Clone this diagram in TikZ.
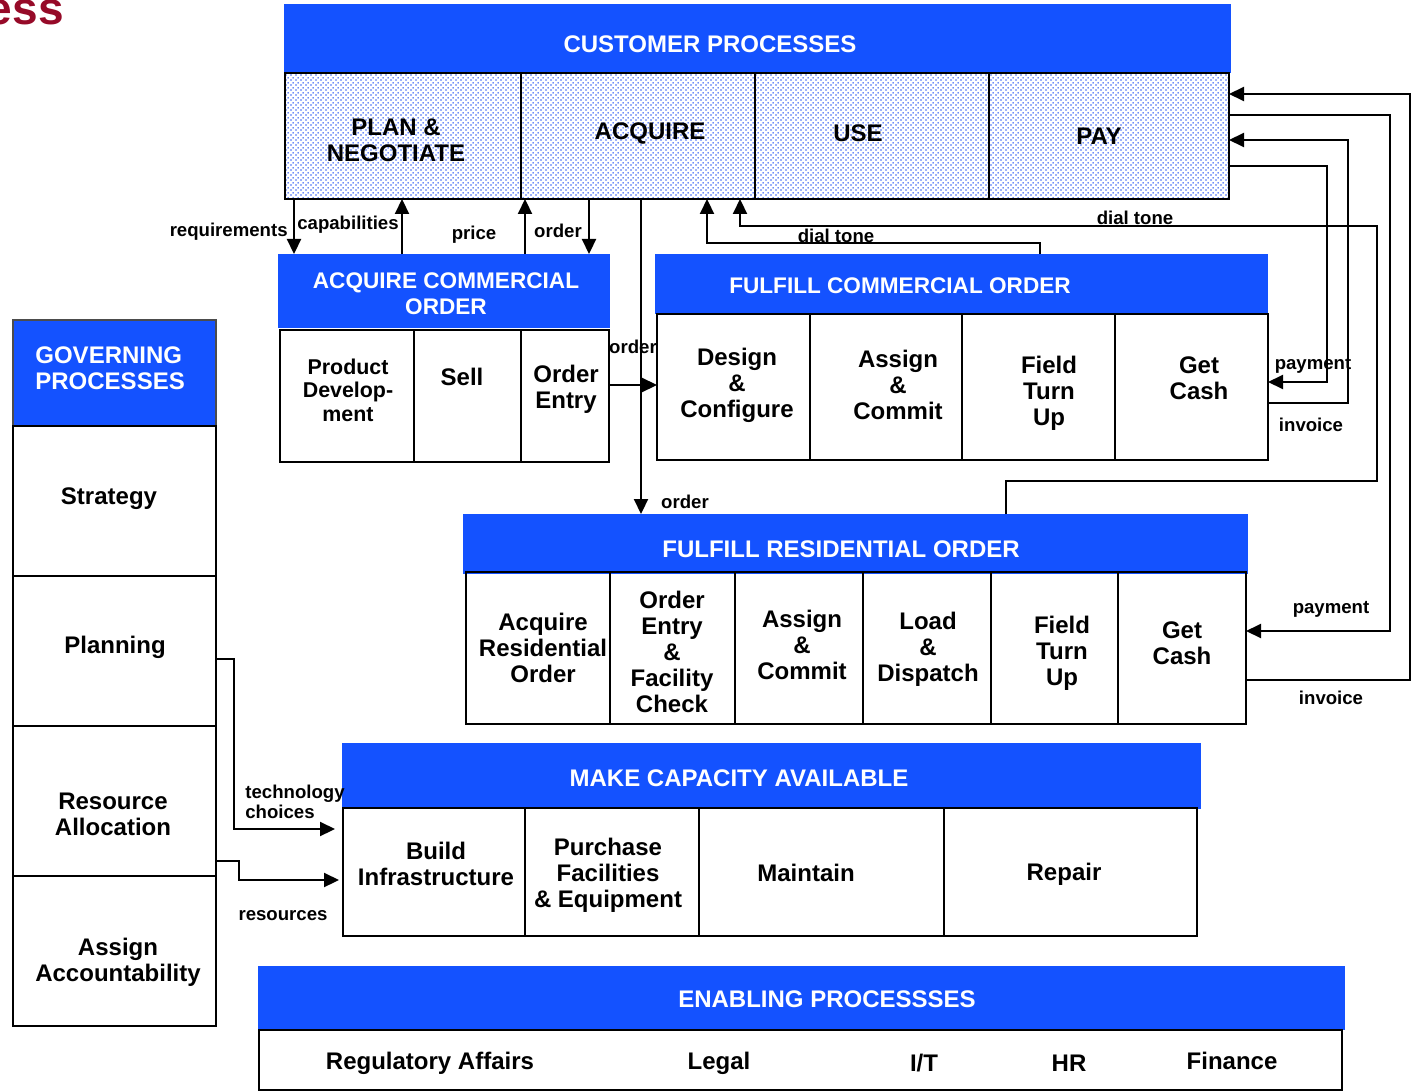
\documentclass[tikz,border=0pt]{standalone}
\usepackage{fontspec}
\setmainfont{Liberation Sans}
\usetikzlibrary{arrows.meta,fit,patterns.meta}

\definecolor{hblue}{RGB}{20,82,255}
\definecolor{dotblue}{RGB}{60,100,245}
\definecolor{essred}{RGB}{150,10,40}

% staggered blue dot screen for the customer process cells
\tikzdeclarepattern{
  name=bluedots,
  type=colored,
  bottom left={(0pt,0pt)},
  top right={(2.5pt,2.5pt)},
  tile size={(2.5pt,2.5pt)},
  code={
    \tikzset{x=1pt,y=1pt}
    \fill[dotblue] (0.6,0.6) circle (0.5);
    \fill[dotblue] (1.85,1.85) circle (0.5);
  }
}

\tikzset{
  hdr/.style={fill=hblue, inner sep=0pt, outer sep=0pt},
  cellbox/.style={draw=black, line width=1.3pt, inner sep=0pt, outer sep=0pt},
  dotbox/.style={cellbox, pattern=bluedots},
  htxt/.style={text=white, font=\bfseries\fontsize{12}{13}\selectfont, align=center, inner sep=0pt},
  hsmall/.style={htxt, font=\bfseries\fontsize{11.3}{13}\selectfont},
  ctxt/.style={font=\bfseries\fontsize{12}{13}\selectfont, align=center, inner sep=0pt},
  csmall/.style={ctxt, font=\bfseries\fontsize{10.7}{11.8}\selectfont},
  lbl/.style={font=\bfseries\fontsize{9.3}{10}\selectfont, inner sep=0pt},
  wire/.style={line width=1.1pt},
  flow/.style={wire, -{Triangle[length=7.5pt,width=7pt]}},
}

\begin{document}
\begin{tikzpicture}[x=0.5pt,y=-0.5pt]
\fill[white] (0,0) rectangle (1412,1091);
\useasboundingbox (0,0) rectangle (1412,1091);

% title fragment
\node[anchor=base east, text=essred, inner sep=0pt,
      font=\bfseries\fontsize{23}{23}\selectfont] (ess) at (64,25) {ess};

% ---------------- customer processes ----------------
\node[hdr, fit={(284,4) (1231,73)}] (cust) {};
\node[htxt] (custT) at (710,44) {CUSTOMER PROCESSES};
\node[dotbox, fit={(285,73) (521,199)}] (plan) {};
\node[dotbox, fit={(521,73) (755,199)}] (acq) {};
\node[dotbox, fit={(755,73) (989,199)}] (use) {};
\node[dotbox, fit={(989,73) (1229,199)}] (pay) {};
\node[ctxt] (planT) at (396,140) {PLAN \&\\NEGOTIATE};
\node[ctxt] (acqT) at (650,133) {ACQUIRE};
\node[ctxt] (useT) at (858,133) {USE};
\node[ctxt] (payT) at (1099,136) {PAY};

% ---------------- acquire commercial order ----------------
\node[hdr, fit={(278,254) (610,328)}] (acoH) {};
\node[hsmall] (acoT) at (446,294) {ACQUIRE COMMERCIAL\\ORDER};
\node[cellbox, fit={(280,330) (414,462)}] (pd) {};
\node[cellbox, fit={(414,330) (521,462)}] (sell) {};
\node[cellbox, fit={(521,330) (609,462)}] (oe) {};
\node[csmall] (pdT) at (348,390) {Product\\Develop-\\ment};
\node[ctxt] (sellT) at (462,377) {Sell};
\node[ctxt] (oeT) at (566,389) {Order\\Entry};

% ---------------- fulfill commercial order ----------------
\node[hdr, fit={(655,254) (1268,314)}] (fcoH) {};
\node[hsmall] (fcoT) at (900,286) {FULFILL COMMERCIAL ORDER};
\node[cellbox, fit={(657,314) (810,460)}] (dc) {};
\node[cellbox, fit={(810,314) (962,460)}] (ac) {};
\node[cellbox, fit={(962,314) (1115,460)}] (ftu) {};
\node[cellbox, fit={(1115,314) (1268,460)}] (gc) {};
\node[ctxt] (dcT) at (737,385) {Design\\\&\\Configure};
\node[ctxt] (acT) at (898,385) {Assign\\\&\\Commit};
\node[ctxt] (ftuT) at (1049,393) {Field\\Turn\\Up};
\node[ctxt] (gcT) at (1199,378) {Get\\Cash};

% ---------------- fulfill residential order ----------------
\node[hdr, fit={(463,514) (1248,574)}] (froH) {};
\node[htxt] (froT) at (841,549) {FULFILL RESIDENTIAL ORDER};
\node[cellbox, fit={(466,572) (610,724)}] (aro) {};
\node[cellbox, fit={(610,572) (735,724)}] (oef) {};
\node[cellbox, fit={(735,572) (863,724)}] (rac) {};
\node[cellbox, fit={(863,572) (991,724)}] (ld) {};
\node[cellbox, fit={(991,572) (1118,724)}] (rftu) {};
\node[cellbox, fit={(1118,572) (1246,724)}] (rgc) {};
\node[ctxt] (aroT) at (543,648) {Acquire\\Residential\\Order};
\node[ctxt] (oefT) at (672,652) {Order\\Entry\\\&\\Facility\\Check};
\node[ctxt] (racT) at (802,645) {Assign\\\&\\Commit};
\node[ctxt] (ldT) at (928,649) {Load\\\&\\Dispatch};
\node[ctxt] (rftuT) at (1062,653) {Field\\Turn\\Up};
\node[ctxt] (rgcT) at (1182,643) {Get\\Cash};

% ---------------- governing processes ----------------
\node[hdr, draw=black!70, line width=0.6pt, fit={(13,320) (216,426)}] (govH) {};
\node[htxt, align=left, anchor=west] (govT) at (35,368) {GOVERNING\\PROCESSES};
\node[cellbox, fit={(13,426) (216,576)}] (strat) {};
\node[cellbox, fit={(13,576) (216,726)}] (plang) {};
\node[cellbox, fit={(13,726) (216,876)}] (ra) {};
\node[cellbox, fit={(13,876) (216,1026)}] (aa) {};
\node[ctxt] (stratT) at (109,499) {Strategy};
\node[ctxt] (plangT) at (115,647) {Planning};
\node[ctxt] (raT) at (113,814) {Resource\\Allocation};
\node[ctxt] (aaT) at (118,962) {Assign\\Accountability};

% ---------------- make capacity available ----------------
\node[hdr, fit={(342,743) (1201,809)}] (mcaH) {};
\node[htxt] (mcaT) at (739,778) {MAKE CAPACITY AVAILABLE};
\node[cellbox, fit={(343,808) (525,936)}] (bi) {};
\node[cellbox, fit={(525,808) (699,936)}] (pfe) {};
\node[cellbox, fit={(699,808) (944,936)}] (mnt) {};
\node[cellbox, fit={(944,808) (1197,936)}] (rep) {};
\node[ctxt] (biT) at (436,864) {Build\\Infrastructure};
\node[ctxt] (pfeT) at (608,875) {Purchase\\Facilities\\\& Equipment};
\node[ctxt] (mntT) at (806,873) {Maintain};
\node[ctxt] (repT) at (1064,874) {Repair};

% ---------------- enabling processes ----------------
\node[hdr, fit={(258,966) (1345,1030)}] (enH) {};
\node[htxt] (enT) at (827,999) {ENABLING PROCESSSES};
\node[cellbox, fit={(259,1030) (1342,1090)}] (enB) {};
\node[ctxt] (regT) at (430,1063) {Regulatory Affairs};
\node[ctxt] (legT) at (719,1063) {Legal};
\node[ctxt] (itT) at (924,1063) {I/T};
\node[ctxt] (hrT) at (1069,1063) {HR};
\node[ctxt] (finT) at (1232,1061) {Finance};

% ---------------- connector columns and rows ----------------
\coordinate (cReq) at (294,0);
\coordinate (cCap) at (402,0);
\coordinate (cPrice) at (525,0);
\coordinate (cOrd) at (589,0);
\coordinate (cRes) at (641,0);
\coordinate (cDt1) at (707,0);
\coordinate (cDt1b) at (1040,0);
\coordinate (cDt2) at (740,0);
\coordinate (cDt2b) at (1006,0);
\coordinate (rOE) at (0,385);
\coordinate (kDt2a) at (1377,481);
\coordinate (kDt2b) at (1377,226);
\coordinate (yCp) at (0,166);
\coordinate (kCp) at (1327,382);
\coordinate (yCi) at (0,403);
\coordinate (kCi) at (1348,140);
\coordinate (yRp) at (0,115);
\coordinate (kRp) at (1390,631);
\coordinate (yRi) at (0,680);
\coordinate (kRi) at (1410,94);
\coordinate (yTc) at (0,659);
\coordinate (kTc) at (234,829);
\coordinate (yRs) at (0,861);
\coordinate (kRs) at (239,880);

% customer <-> acquire commercial order
\draw[flow] (plan.south -| cReq) -- (acoH.north -| cReq);
\draw[flow] (acoH.north -| cCap) -- (plan.south -| cCap);
\draw[flow] (acoH.north -| cPrice) -- (acq.south -| cPrice);
\draw[flow] (acq.south -| cOrd) -- (acoH.north -| cOrd);
% residential order
\draw[flow] (acq.south -| cRes) -- (froH.north -| cRes);
% commercial order hand-off
\draw[flow] (oe.east |- rOE) -- (dc.west |- rOE);
% dial tone returns
\draw[flow] (fcoH.north -| cDt1b) -- ++(0,-11) -| (acq.south -| cDt1);
\draw[flow] (froH.north -| cDt2b) |- (kDt2a) -- (kDt2b) -| (acq.south -| cDt2);
% commercial billing
\draw[flow] (pay.east |- yCp) -| (kCp) -- (gc.east |- kCp);
\draw[flow] (gc.east |- yCi) -| (kCi) -- (pay.east |- kCi);
% residential billing
\draw[flow] (pay.east |- yRp) -| (kRp) -- (rgc.east |- kRp);
\draw[flow] (rgc.east |- yRi) -| (kRi) -- (pay.east |- kRi);
% governing -> capacity
\draw[flow, shorten >=4pt] (plang.east |- yTc) -| (kTc) -- (bi.west |- kTc);
\draw[flow, shorten >=2pt] (ra.east |- yRs) -| (kRs) -- (bi.west |- kRs);

% ---------------- connector labels ----------------
\node[lbl, anchor=east] (lReq) at (288,232) {requirements};
\node[lbl] (lCap) at (348,225) {capabilities};
\node[lbl] (lPrice) at (474,235) {price};
\node[lbl] (lOrd) at (558,231) {order};
\node[lbl] (lOrd2) at (633,347) {order};
\node[lbl] (lOrd3) at (685,502) {order};
\node[lbl] (lDt1) at (836,236) {dial tone};
\node[lbl] (lDt2) at (1135,218) {dial tone};
\node[lbl] (lCp) at (1313,365) {payment};
\node[lbl] (lCi) at (1311,425) {invoice};
\node[lbl] (lRp) at (1331,609) {payment};
\node[lbl] (lRi) at (1331,698) {invoice};
\node[lbl, align=left, anchor=west] (lTc) at (245,802) {technology\\choices};
\node[lbl] (lRs) at (283,916) {resources};
\end{tikzpicture}
\end{document}
